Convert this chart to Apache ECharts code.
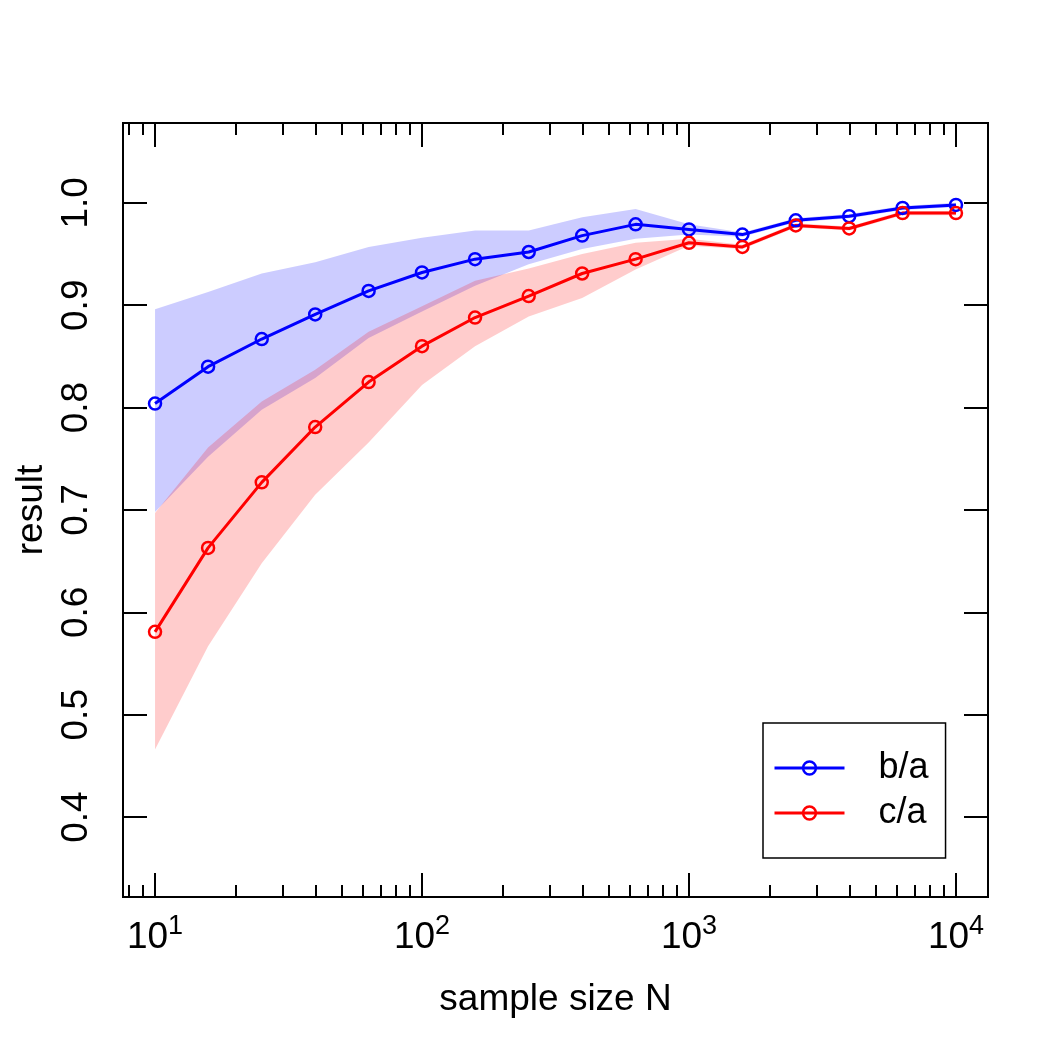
<!DOCTYPE html>
<html>
<head>
<meta charset="utf-8">
<script src="https://cdn.jsdelivr.net/npm/echarts@6/dist/echarts.min.js"></script>
<style>
  html, body { margin: 0; padding: 0; background: #fff; }
  #chart { width: 1050px; height: 1050px; }
</style>
</head>
<body>
<div id="chart"></div>
<script>
// sample sizes, 10^(1 + k/5)
const sampleSize = [10, 15.8, 25.1, 39.8, 63.1, 100, 158, 251, 398, 631, 1000, 1585, 2512, 3981, 6310, 10000]

const ratioBA = [0.804, 0.840, 0.867, 0.891, 0.914, 0.932, 0.945, 0.952, 0.968, 0.979, 0.974, 0.969, 0.983, 0.987, 0.995, 0.998]
const ratioBAHigh = [0.896, 0.913, 0.931, 0.942, 0.957, 0.966, 0.973, 0.973, 0.986, 0.994, 0.979, 0.971, 0.985, 0.989, 0.997, 1.000]
const ratioBALow = [0.698, 0.752, 0.798, 0.829, 0.868, 0.894, 0.919, 0.940, 0.955, 0.965, 0.969, 0.967, 0.981, 0.985, 0.993, 0.996]

const ratioCA = [0.581, 0.663, 0.727, 0.781, 0.825, 0.860, 0.888, 0.909, 0.931, 0.945, 0.961, 0.957, 0.978, 0.975, 0.990, 0.990]
const ratioCAHigh = [0.697, 0.761, 0.806, 0.837, 0.874, 0.899, 0.924, 0.936, 0.950, 0.961, 0.965, 0.959, 0.980, 0.977, 0.992, 0.992]
const ratioCALow = [0.466, 0.567, 0.648, 0.715, 0.766, 0.822, 0.860, 0.889, 0.907, 0.935, 0.958, 0.955, 0.976, 0.973, 0.988, 0.988]

const xMajorTicks = [10, 100, 1000, 10000]
const xMinorTicks = [8, 9, 20, 30, 40, 50, 60, 70, 80, 90, 200, 300, 400, 500, 600, 700, 800, 900,
  2000, 3000, 4000, 5000, 6000, 7000, 8000, 9000]
const yTicks = [0.4, 0.5, 0.6, 0.7, 0.8, 0.9, 1.0]

const xLimits = [0.88, 4.12] // log10 units
const yLimits = [0.322, 1.078]

const FONT = 'Liberation Sans, Arial, Helvetica, sans-serif'
const lx = (v) => Math.log10(v)

const chart = echarts.init(document.getElementById('chart'))

function bandSeries(name, low, high, color) {
  return {
    type: 'custom',
    name: name,
    silent: true,
    clip: true,
    z: 1,
    data: sampleSize.map((n, i) => [lx(n), low[i], high[i]]),
    encode: { x: 0, y: [1, 2] },
    renderItem: (params, api) => {
      if (params.dataIndex !== 0) return null
      const upper = sampleSize.map((n, i) => api.coord([lx(n), high[i]]))
      const lower = sampleSize.map((n, i) => api.coord([lx(n), low[i]])).reverse()
      return {
        type: 'polygon',
        shape: { points: upper.concat(lower) },
        style: { fill: color },
      }
    },
  }
}

function lineSeries(name, values, color) {
  return {
    type: 'line',
    name: name,
    data: sampleSize.map((n, i) => [lx(n), values[i]]),
    symbol: 'circle',
    symbolSize: 12,
    showAllSymbol: true,
    z: 3,
    lineStyle: { color: color, width: 3 },
    itemStyle: { color: 'transparent', borderColor: color, borderWidth: 2.5 },
    emphasis: { disabled: true },
  }
}

function xTickAxis(position, values, length, withLabels) {
  return {
    type: 'value',
    position: position,
    min: xLimits[0],
    max: xLimits[1],
    axisLine: { show: false },
    splitLine: { show: false },
    axisTick: {
      show: true,
      inside: true,
      length: length,
      customValues: values.map(lx),
      lineStyle: { color: '#000', width: 2 },
    },
    axisLabel: withLabels
      ? {
          show: true,
          customValues: values.map(lx),
          margin: 16,
          formatter: (v) => '{b|10}{s|' + Math.round(v) + '}',
          rich: {
            b: { fontSize: 37, fontFamily: FONT, color: '#000' },
            s: { fontSize: 27, fontFamily: FONT, color: '#000', padding: [0, 0, 22, 0] },
          },
        }
      : { show: false },
  }
}

function yTickAxis(position, withLabels) {
  return {
    type: 'value',
    position: position,
    min: yLimits[0],
    max: yLimits[1],
    axisLine: { show: false },
    splitLine: { show: false },
    axisTick: {
      show: true,
      inside: true,
      length: 24,
      customValues: yTicks,
      lineStyle: { color: '#000', width: 2 },
    },
    axisLabel: withLabels
      ? {
          show: true,
          customValues: yTicks,
          rotate: 90,
          margin: 28,
          fontSize: 37,
          fontFamily: FONT,
          color: '#000',
          formatter: (v) => v.toFixed(1),
        }
      : { show: false },
  }
}

const xAxes = [
  xTickAxis('bottom', xMajorTicks, 24, true),
  xTickAxis('bottom', xMinorTicks, 12, false),
  xTickAxis('top', xMajorTicks, 24, false),
  xTickAxis('top', xMinorTicks, 12, false),
]
xAxes[0].name = 'sample size N'
xAxes[0].nameLocation = 'middle'
xAxes[0].nameGap = 84
xAxes[0].nameTextStyle = { fontSize: 37, fontFamily: FONT, color: '#000' }

const yAxes = [yTickAxis('left', true), yTickAxis('right', false)]
yAxes[0].name = 'result'
yAxes[0].nameLocation = 'middle'
yAxes[0].nameGap = 68
yAxes[0].nameTextStyle = { fontSize: 37, fontFamily: FONT, color: '#000' }

const option = {
  animation: false,
  backgroundColor: '#fff',
  grid: {
    left: 123,
    right: 62,
    top: 123,
    bottom: 153,
    show: true,
    borderColor: '#000',
    borderWidth: 2,
    backgroundColor: 'transparent',
  },
  legend: {
    data: ['b/a', 'c/a'],
    orient: 'vertical',
    left: 763,
    top: 723,
    padding: [27, 17, 27, 10],
    itemWidth: 70,
    itemHeight: 16,
    itemGap: 9,
    borderColor: '#000',
    borderWidth: 1.5,
    borderRadius: 0,
    selectedMode: false,
    lineStyle: { width: 3 },
    itemStyle: { borderWidth: 2.5 },
    textStyle: {
      fontSize: 36,
      lineHeight: 36,
      fontFamily: FONT,
      color: '#000',
      padding: [0, 0, 0, 29],
    },
  },
  xAxis: xAxes,
  yAxis: yAxes,
  series: [
    bandSeries('b/a band', ratioBALow, ratioBAHigh, 'rgba(0, 0, 255, 0.2)'),
    bandSeries('c/a band', ratioCALow, ratioCAHigh, 'rgba(255, 0, 0, 0.2)'),
    lineSeries('b/a', ratioBA, '#0000ff'),
    lineSeries('c/a', ratioCA, '#ff0000'),
  ],
}

chart.setOption(option)
</script>
</body>
</html>
